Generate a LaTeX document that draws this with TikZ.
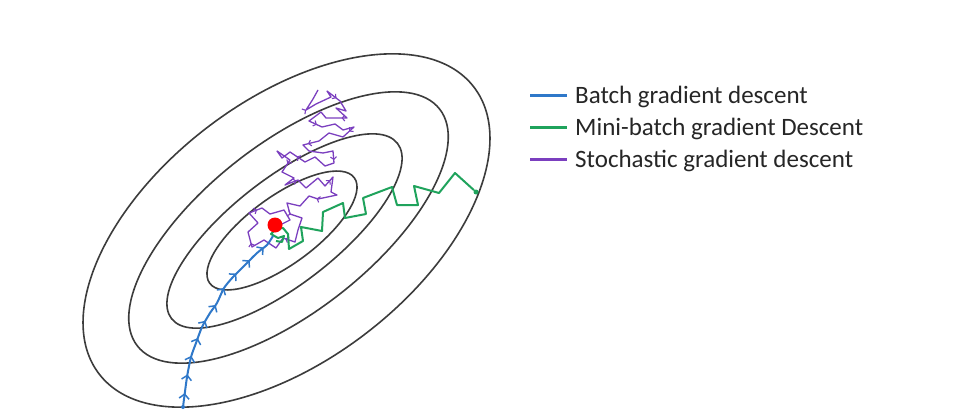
\documentclass[tikz,border=0pt]{standalone}
\usepackage{fontspec}
\setmainfont{Carlito}
\usetikzlibrary{arrows.meta, positioning, decorations.markings}
\definecolor{batchblue}{HTML}{2F78C9}
\definecolor{minigreen}{HTML}{1FA35C}
\definecolor{stochpurple}{HTML}{7B3FBF}
\definecolor{contourgray}{HTML}{3C3C3C}

\begin{document}
\begin{tikzpicture}[x=1pt, y=-1pt,
        contour/.style={draw=contourgray, line width=1.6pt},
        batchpath/.style={batchblue, line width=2pt, line join=round,
            postaction={decorate}, decoration={markings,
                mark=between positions 0.07 and 0.93 step 0.095 with
                {\arrow[batchblue]{Straight Barb[length=4.5pt, width=10pt, line width=1.5pt]}}}},
        minipath/.style={minigreen, line width=2pt, line join=round},
        stochpath/.style={stochpurple, line width=1.3pt, line join=round,
            postaction={decorate}, decoration={markings,
                mark=between positions 0.03 and 0.97 step 0.06 with
                {\arrow[stochpurple]{Straight Barb[length=2.5pt, width=6pt, line width=1.1pt]}}}},
        legtext/.style={anchor=west, inner sep=0pt, font=\fontsize{25}{29}\selectfont, text=black!85},
        dot/.style={circle, inner sep=0pt, minimum size=#1}]
        \useasboundingbox (0,0) rectangle (971,415);
        \fill[white] (0,0) rectangle (971,415);

        % Contours
        \foreach \cx/\cy/\ra/\rb/\ang in {286.5/230.5/236/130/37.4, 288.5/227.5/192/84/38.1,
                284.5/231/143/53/37.8, 282/230.5/89.5/34/36.1} {
            \draw[contour, rotate around={\ang:(\cx,\cy)}] (\cx,\cy) ellipse [x radius=\ra pt, y radius=\rb pt];
        }

        % Minimum and start points
        \coordinate (bstart) at (183,407);
        \node[dot=5pt, fill=minigreen] (mstart) at (476,192) {};
        \coordinate (sstart) at (318,90);

        % Stochastic gradient descent
        \draw[stochpath] (sstart) -- (313,99) -- (306,110) -- (316,104) -- (331,97) -- (327,91)
            -- (340,101) -- (346,111) -- (336,108) -- (347,118) -- (326,118) -- (321,112)
            -- (309,121) -- (322,127) -- (335,124) -- (343,130) -- (354,127) -- (343,137)
            -- (329,133) -- (319,141) -- (303,145) -- (309,151) -- (323,153) -- (333,151)
            -- (334,163) -- (325,166) -- (315,157) -- (305,162) -- (290,152) -- (282,158)
            -- (277,151) -- (290,160) -- (282,172) -- (294,178) -- (285,185) -- (298,180)
            -- (306,188) -- (318,178) -- (325,186) -- (333,177) -- (331,192) -- (337,195)
            -- (318,199) -- (309,196) -- (300,206) -- (287,203) -- (290,214) -- (302,218)
            -- (298,230) -- (295,242) -- (283,238) -- (276,248) -- (264,240) -- (252,247)
            -- (248,232) -- (258,223) -- (249,213) -- (262,208) -- (270,214) -- (284,210)
            -- (290,220) -- (278,226);

        % Mini-batch gradient descent
        \draw[minipath] (mstart) -- (455,173) -- (439,193) -- (414,186) -- (418,205) -- (397,205)
            -- (392,187) -- (363,198) -- (366,214) -- (345,218) -- (343,203) -- (323,212)
            -- (322,231) -- (301,227) -- (303,241) -- (289,249) -- (288,234) -- (283,228)
            -- (276,229) -- (271,234) -- (278,238) -- (284,236) -- (282,242) -- (276,241);

        % Batch gradient descent
        \node[dot=15pt, fill=red] (opt) at (275,225) {};
        \draw[batchpath] plot[smooth, tension=0.4] coordinates {(bstart) (187,377) (191,357)
            (196,343) (202,327) (210,313) (217,303) (224,288) (233,277) (243,267) (257,253)
            (267,245) (273,236)};
        \node[dot=4pt, fill=batchblue] at (bstart) {};

        % Legend
        \foreach \name/\col/\txt/\y in {batch/batchblue/Batch gradient descent/96.5,
                mini/minigreen/Mini-batch gradient Descent/128.5,
                stoch/stochpurple/Stochastic gradient descent/160.5} {
            \node[legtext] (l\name) at (575,\y) {\txt};
            \draw[\col, line width=3pt] ([xshift=-45pt, yshift=1.5pt]l\name.west) -- ([xshift=-8pt, yshift=1.5pt]l\name.west);
        }
    \end{tikzpicture}
\end{document}
